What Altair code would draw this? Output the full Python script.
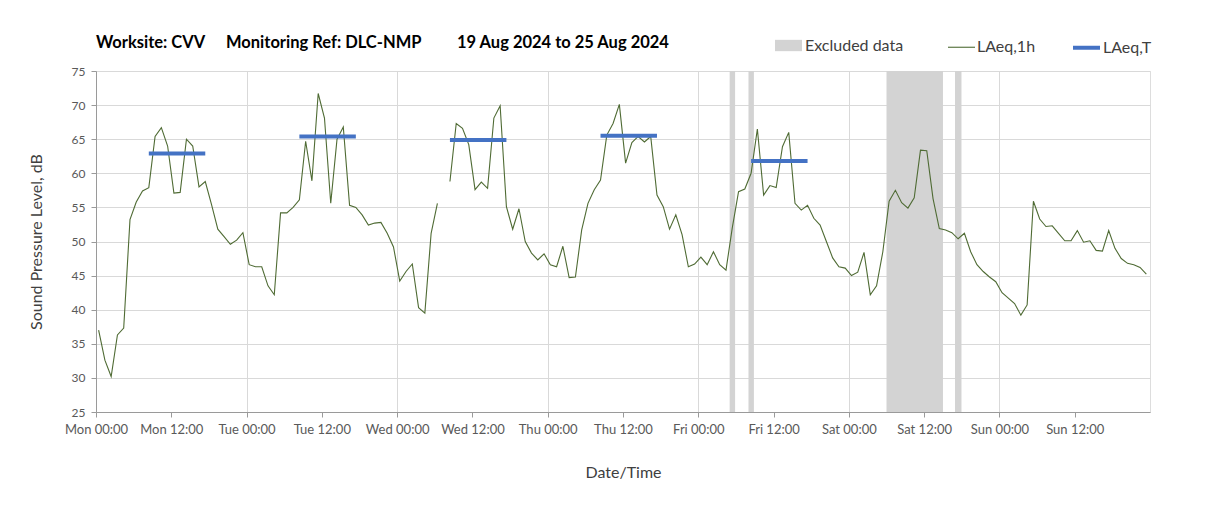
import altair as alt
import pandas as pd

# ---------------- data ----------------
# hourly LAeq,1h values, Mon 19 Aug 2024 00:25 onwards (168 hours); None = missing hour
laeq_1h = [
    37.0, 32.6, 30.2, 36.3, 37.3, 53.2, 55.8, 57.4, 57.9, 65.4, 66.7, 64.0,
    57.1, 57.2, 65.0, 64.0, 58.0, 58.8, 55.4, 51.8, 50.7, 49.6, 50.2, 51.3,
    46.6, 46.3, 46.3, 43.5, 42.2, 54.2, 54.2, 55.0, 56.1, 64.7, 58.9, 71.7,
    68.1, 55.6, 65.0, 66.8, 55.3, 55.0, 53.9, 52.4, 52.7, 52.8, 51.2, 49.2,
    44.2, 45.6, 46.7, 40.3, 39.5, 51.2, 55.6, None, 58.8, 67.3, 66.6, 64.2,
    57.6, 58.7, 57.8, 68.1, 69.9, 55.1, 51.8, 54.8, 50.0, 48.3, 47.3, 48.2,
    46.6, 46.3, 49.3, 44.7, 44.8, 51.7, 55.6, 57.6, 59.0, 65.6, 67.3, 70.1,
    61.5, 64.5, 65.4, 64.6, 65.4, 56.8, 55.1, 51.8, 53.9, 51.0, 46.3, 46.7,
    47.7, 46.6, 48.5, 46.6, 45.8, 52.0, 57.3, 57.7, 60.0, 66.5, 56.8, 58.2,
    57.9, 63.9, 66.0, 55.6, 54.6, 55.3, 53.4, 52.4, 50.0, 47.6, 46.3, 46.1,
    45.0, 45.5, 48.4, 42.2, 43.5, 48.5, 55.9, 57.5, 55.7, 54.9, 56.4, 63.4,
    63.3, 56.3, 51.9, 51.7, 51.3, 50.4, 51.2, 48.5, 46.6, 45.6, 44.8, 44.1,
    42.5, 41.7, 40.9, 39.2, 40.7, 55.9, 53.3, 52.2, 52.3, 51.2, 50.1, 50.1,
    51.6, 49.9, 50.1, 48.7, 48.6, 51.6, 49.0, 47.5, 46.8, 46.6, 46.2, 45.2,
]
first_time = "2024-08-19 00:25"

# LAeq,T daytime periods
laeq_t_start = ["2024-08-19 08:25", "2024-08-20 08:25", "2024-08-21 08:25",
                "2024-08-22 08:25", "2024-08-23 08:25"]
laeq_t_end = ["2024-08-19 17:25", "2024-08-20 17:25", "2024-08-21 17:25",
              "2024-08-22 17:25", "2024-08-23 17:25"]
laeq_t_level = [62.9, 65.4, 64.9, 65.5, 61.8]

# excluded data periods
excl_start = ["2024-08-23 05:00", "2024-08-23 08:00", "2024-08-24 06:00", "2024-08-24 16:55"]
excl_end = ["2024-08-23 05:52", "2024-08-23 08:52", "2024-08-24 15:00", "2024-08-24 17:57"]

# axis ticks (hours from Mon 00:00)
tick_hours = list(range(0, 168, 12))
y_ticks = list(range(25, 80, 5))

title_parts = ["Worksite: CVV", "Monitoring Ref: DLC-NMP", "19 Aug 2024 to 25 Aug 2024"]

# ---------------- tables ----------------
t0 = pd.Timestamp(first_time)
gap_index = laeq_1h.index(None)
line_df = pd.DataFrame({
    "time": [(t0 + pd.Timedelta(hours=i)).strftime("%Y-%m-%dT%H:%M:%S") for i in range(len(laeq_1h))],
    "level": laeq_1h,
    "seg": [0 if i < gap_index else 1 for i in range(len(laeq_1h))],
})
line_df = line_df.dropna()
line_df["series"] = "LAeq,1h"

t_df = pd.DataFrame({
    "start": [pd.Timestamp(s).strftime("%Y-%m-%dT%H:%M:%S") for s in laeq_t_start],
    "end": [pd.Timestamp(s).strftime("%Y-%m-%dT%H:%M:%S") for s in laeq_t_end],
    "level": laeq_t_level,
})
t_df["series"] = "LAeq,T"

ex_df = pd.DataFrame({
    "start": [pd.Timestamp(s).strftime("%Y-%m-%dT%H:%M:%S") for s in excl_start],
    "end": [pd.Timestamp(s).strftime("%Y-%m-%dT%H:%M:%S") for s in excl_end],
})
ex_df["label"] = "Excluded data"

def dt(h):
    day = 19 + h // 24
    return alt.DateTime(year=2024, month=8, date=int(day), hours=int(h % 24))

FONT = "Lato"
x_scale = alt.Scale(domain=[dt(0), dt(168)])
y_scale = alt.Scale(domain=[25, 75], nice=False, zero=False)

x_axis = alt.Axis(
    values=[dt(h) for h in tick_hours], format="%a %H:%M",
    labelFont=FONT, labelFontSize=13, labelColor="#595959", labelPadding=6,
    labelOverlap=False, labelFlush=False,
    tickSize=5, tickColor="#9a9a9a", domainColor="#9a9a9a",
    gridColor="#d9d9d9", gridOpacity=alt.expr("hours(datum.value) == 0 ? 1 : 0"),
    title="Date/Time", titleFont=FONT, titleFontSize=16, titleFontWeight="normal",
    titleColor="#404040", titlePadding=28,
)
y_axis = alt.Axis(
    values=y_ticks, labelFont=FONT, labelFontSize=12, labelColor="#595959",
    labelPadding=6, tickSize=5, tickColor="#9a9a9a", domainColor="#9a9a9a",
    gridColor="#d9d9d9",
    title="Sound Pressure Level, dB", titleFont=FONT, titleFontSize=16,
    titleFontWeight="normal", titleColor="#404040", titlePadding=27,
)

series_domain = ["LAeq,1h", "LAeq,T"]
stroke_scale = alt.Scale(domain=series_domain, range=["#4f6b34", "#4472c4"])
width_scale = alt.Scale(domain=series_domain, range=[1.1, 4])
series_legend = alt.Legend(
    title=None, orient="none", legendX=851, legendY=-39, direction="horizontal",
    symbolType="stroke", symbolSize=729, labelFont=FONT, labelFontSize=16,
    labelColor="#404040", columnPadding=29, labelOffset=1, padding=0,
)
fill_legend = alt.Legend(
    title=None, orient="none", legendX=679, legendY=-39, direction="horizontal",
    symbolType="M-1,-0.42H1V0.42H-1Z", symbolSize=729, symbolStrokeWidth=0,
    symbolOpacity=1, labelFont=FONT, labelFontSize=16, labelColor="#404040",
    labelOffset=3, padding=0,
)

excluded = alt.Chart(ex_df).mark_rect(opacity=1).encode(
    x=alt.X("start:T", scale=x_scale, axis=x_axis),
    x2="end:T",
    fill=alt.Fill("label:N", scale=alt.Scale(domain=["Excluded data"], range=["#d3d3d3"]),
                  legend=fill_legend),
)

line = alt.Chart(line_df).mark_line(interpolate="linear").encode(
    x=alt.X("time:T", scale=x_scale, axis=x_axis),
    y=alt.Y("level:Q", scale=y_scale, axis=y_axis),
    detail="seg:N",
    stroke=alt.Stroke("series:O", scale=stroke_scale, legend=series_legend),
    strokeWidth=alt.StrokeWidth("series:O", scale=width_scale, legend=series_legend),
)

laeq_t = alt.Chart(t_df).mark_rule(strokeCap="butt").encode(
    x=alt.X("start:T", scale=x_scale, axis=x_axis),
    x2="end:T",
    y=alt.Y("level:Q", scale=y_scale, axis=y_axis),
    stroke=alt.Stroke("series:O", scale=stroke_scale, legend=series_legend),
    strokeWidth=alt.StrokeWidth("series:O", scale=width_scale, legend=series_legend),
)

title_x = [0, 130, 361]
title_layers = []
for part, tx in zip(title_parts, title_x):
    title_layers.append(
        alt.Chart(pd.DataFrame({"t": [part]})).mark_text(
            align="left", baseline="alphabetic", font=FONT, fontSize=16.5,
            fontWeight="bold", color="#000000",
        ).encode(x=alt.value(tx), y=alt.value(-23), text="t:N")
    )

chart = alt.layer(excluded, line, laeq_t, *title_layers).properties(
    width=1054, height=341,
    autosize=alt.AutoSizeParams(type="none"),
    padding={"left": 88, "top": 63, "right": 40, "bottom": 80},
).configure_view(stroke="#d9d9d9").configure(background="white")

chart.save("out.html", embed_options={"renderer": "svg", "actions": False})
